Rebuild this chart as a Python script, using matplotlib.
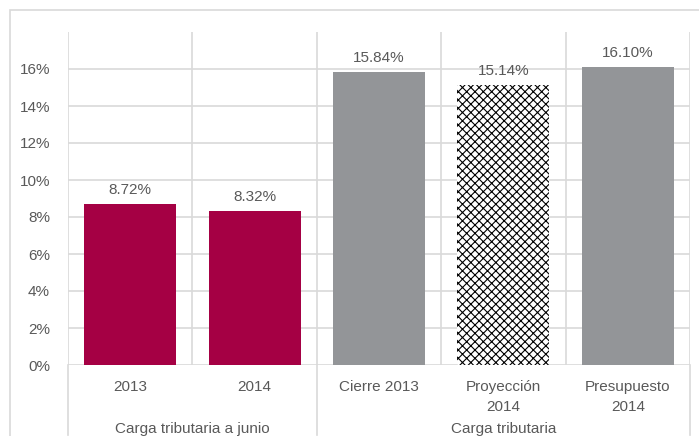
import matplotlib
matplotlib.use("Agg")
from matplotlib import pyplot as plt
from matplotlib.patches import Rectangle

plt.rcParams['font.family'] = ['Liberation Sans Narrow', 'Liberation Sans', 'DejaVu Sans']

categories = ["2013", "2014", "Cierre 2013", "Proyección\n2014", "Presupuesto\n2014"]
values = [8.72, 8.32, 15.84, 15.14, 16.10]
groups = ["Carga tributaria a junio", "Carga tributaria"]
group_spans = [(0, 1), (2, 4)]
y_ticks = [0, 2, 4, 6, 8, 10, 12, 14, 16]

MAROON = "#A50044"
GRAY = "#939598"
TEXT = "#595959"
GRID = "#D9D9D9"
bar_colors = [MAROON, MAROON, GRAY, "white", GRAY]
bar_hatch = [None, None, None, "xxxx", None]

fig = plt.figure(figsize=(6.99, 4.36), dpi=100)
ax = fig.add_axes([68/699, (436-365)/436, 622/699, 333/436])

# outer chart border
fig.patches.append(Rectangle((10/699, -0.1), 1.2, 1.1 - 10/436, transform=fig.transFigure,
                             fill=False, edgecolor=GRID, linewidth=1.2))

x = range(len(categories))
plt.rcParams['hatch.linewidth'] = 0.8
for i in x:
    ax.bar(i, values[i], width=0.74, color=bar_colors[i], hatch=bar_hatch[i],
           edgecolor="black" if bar_hatch[i] else bar_colors[i], linewidth=0, zorder=3)
    ax.annotate(f"{values[i]:.2f}%", (i, values[i]), xytext=(0, 5), textcoords="offset points",
                ha="center", va="bottom", fontsize=11, color=TEXT)

ax.set_xlim(-0.5, len(categories) - 0.5)
ax.set_ylim(0, 18)
ax.set_yticks(y_ticks)
ax.set_yticklabels([f"{t}%" for t in y_ticks])
ax.set_xticks(list(x))
ax.set_xticklabels(categories, linespacing=1.55)
ax.tick_params(axis="both", length=0, labelsize=11, colors=TEXT)
ax.tick_params(axis="x", pad=11)
ax.tick_params(axis="y", pad=13)

for s in ax.spines.values():
    s.set_visible(False)

for t in y_ticks:
    ax.axhline(t, color=GRID, linewidth=1.2, zorder=1)
for b in range(len(categories) + 1):
    ax.axvline(b - 0.5, color=GRID, linewidth=1.2, zorder=1)

# group separators and labels under the axis
trans = ax.get_xaxis_transform()
for (a, b), name in zip(group_spans, groups):
    ax.text((a + b) / 2, -0.192, name, transform=trans, ha="center", va="center",
            fontsize=11, color=TEXT)
for edge in [-0.5, 1.5, 4.5]:
    ax.plot([edge, edge], [0, -0.21], transform=trans, color=GRID, linewidth=1.2, clip_on=False)

fig.savefig("out.png", dpi=100)
